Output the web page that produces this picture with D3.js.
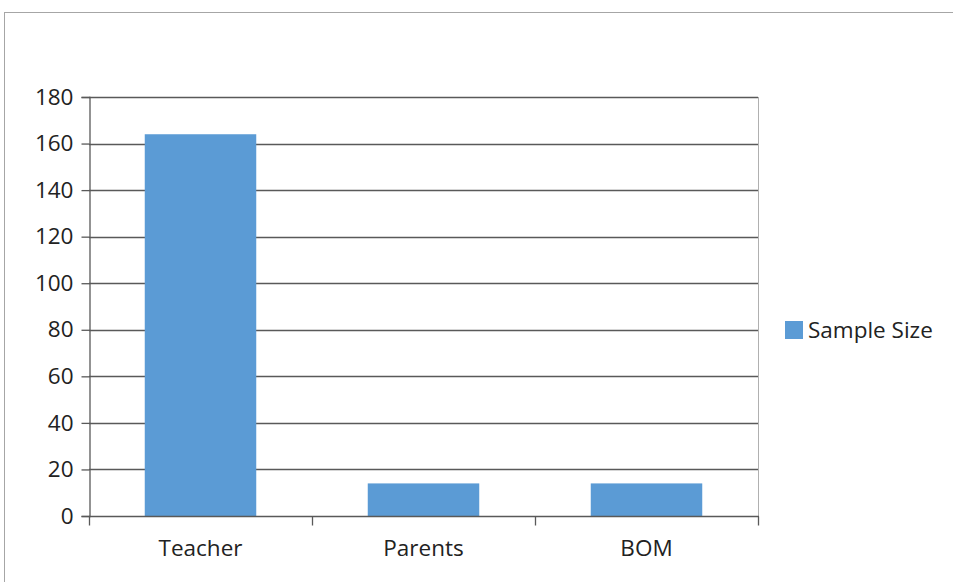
<!DOCTYPE html>
<html>
<head>
<meta charset="utf-8">
<script src="https://cdn.jsdelivr.net/npm/d3@7"></script>
<style>
  html, body { margin: 0; padding: 0; background: #fff; }
  svg { display: block; }
</style>
</head>
<body>
<svg id="chart" width="953" height="582"></svg>
<script>
// Chart data
const categories = ["Teacher", "Parents", "BOM"];
const sampleSize = [164, 14, 14];
const yTicks = [0, 20, 40, 60, 80, 100, 120, 140, 160, 180];
const seriesName = "Sample Size";

const svg = d3.select("#chart");
const font = "'Open Sans', 'Liberation Sans', sans-serif";
const fontSize = 22.5;
const barColor = "#5b9bd5";

// Outer frame
svg.append("rect")
  .attr("x", 4.5).attr("y", 12.5)
  .attr("width", 960).attr("height", 600)
  .attr("fill", "#fff")
  .attr("stroke", "#a6a6a6")
  .attr("stroke-width", 1);

const plot = { left: 89, right: 758, top: 97, bottom: 516 };

const x = d3.scaleBand()
  .domain(categories)
  .range([plot.left, plot.right])
  .paddingInner(0.5)
  .paddingOuter(0.25);

const y = d3.scaleLinear()
  .domain([0, 180])
  .range([plot.bottom, plot.top]);

// Horizontal gridlines
svg.append("g")
  .selectAll("line")
  .data(yTicks.filter(d => d > 0))
  .join("line")
  .attr("x1", plot.left).attr("x2", plot.right)
  .attr("y1", d => Math.round(y(d)) + 0.5)
  .attr("y2", d => Math.round(y(d)) + 0.5)
  .attr("stroke", "#595959")
  .attr("stroke-width", 1.3);

// Right border of plot area
svg.append("line")
  .attr("x1", plot.right + 0.5).attr("x2", plot.right + 0.5)
  .attr("y1", plot.top).attr("y2", plot.bottom)
  .attr("stroke", "#b0b0b0");

// Bars
svg.append("g")
  .selectAll("rect")
  .data(categories.map((c, i) => ({ c, v: sampleSize[i] })))
  .join("rect")
  .attr("x", d => x(d.c))
  .attr("width", x.bandwidth())
  .attr("y", d => y(d.v))
  .attr("height", d => y(0) - y(d.v))
  .attr("fill", barColor);

// Y axis
const yAxis = svg.append("g")
  .attr("transform", `translate(${plot.left + 0.5},0)`)
  .call(d3.axisLeft(y).tickValues(yTicks).tickSize(8).tickPadding(8));
yAxis.select(".domain").attr("stroke", "#595959").attr("stroke-width", 1.3);
yAxis.selectAll(".tick line").attr("stroke", "#595959").attr("stroke-width", 1.3);
yAxis.selectAll(".tick text")
  .attr("font-family", font).attr("font-size", fontSize).attr("fill", "#222");

// X axis with boundary ticks between categories
const xAxis = svg.append("g")
  .attr("transform", `translate(0,${plot.bottom + 0.5})`);
xAxis.append("line")
  .attr("x1", plot.left).attr("x2", plot.right + 1)
  .attr("stroke", "#595959").attr("stroke-width", 1.3);
const boundaries = d3.range(categories.length + 1).map(i => plot.left + i * (plot.right - plot.left) / categories.length);
xAxis.selectAll(".bt")
  .data(boundaries)
  .join("line")
  .attr("class", "bt")
  .attr("x1", d => Math.round(d) + 0.5).attr("x2", d => Math.round(d) + 0.5)
  .attr("y1", 0).attr("y2", 9)
  .attr("stroke", "#595959").attr("stroke-width", 1.3);
xAxis.selectAll("text")
  .data(categories)
  .join("text")
  .attr("x", d => x(d) + x.bandwidth() / 2)
  .attr("y", 39)
  .attr("text-anchor", "middle")
  .attr("font-family", font).attr("font-size", fontSize).attr("fill", "#222")
  .text(d => d);

// Legend
const legend = svg.append("g").attr("transform", "translate(785,321)");
legend.append("rect")
  .attr("width", 18).attr("height", 18)
  .attr("fill", barColor);
legend.append("text")
  .attr("x", 23).attr("y", 17)
  .attr("font-family", font).attr("font-size", fontSize).attr("fill", "#222")
  .text(seriesName);
</script>
</body>
</html>
